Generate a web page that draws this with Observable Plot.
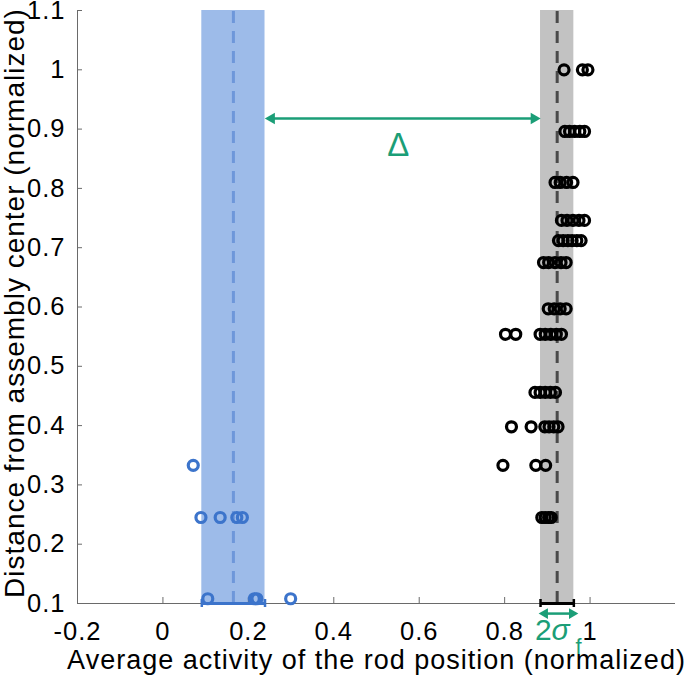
<!DOCTYPE html>
<html>
<head>
<meta charset="utf-8">
<script src="https://cdn.jsdelivr.net/npm/d3@7"></script>
<script src="https://cdn.jsdelivr.net/npm/@observablehq/plot@0.6"></script>
<style>
  html, body { margin: 0; padding: 0; background: #fff; }
</style>
</head>
<body>
<div id="chart"></div>
<script>
// ---- data ----
const xTicks = [-0.2, 0, 0.2, 0.4, 0.6, 0.8, 1];
const yTicks = [0.1, 0.2, 0.3, 0.4, 0.5, 0.6, 0.7, 0.8, 0.9, 1, 1.1];

// distances (normalized) of each row of rods
const fgDistances = [1.0, 0.896, 0.810, 0.746, 0.712, 0.675, 0.597, 0.554, 0.456, 0.398, 0.333, 0.245];
// activities of the rods at each distance (black, in-assembly)
const fgActivities = [
  [0.939, 0.982, 0.995],
  [0.941, 0.952, 0.964, 0.976, 0.987],
  [0.918, 0.930, 0.945, 0.960],
  [0.933, 0.946, 0.960, 0.974, 0.987],
  [0.926, 0.937, 0.948, 0.958, 0.969, 0.979],
  [0.891, 0.903, 0.918, 0.932, 0.944],
  [0.902, 0.916, 0.930, 0.944],
  [0.802, 0.826, 0.883, 0.895, 0.908, 0.921, 0.933],
  [0.871, 0.883, 0.895, 0.907, 0.919],
  [0.816, 0.862, 0.894, 0.904, 0.915, 0.925],
  [0.796, 0.873, 0.896],
  [0.887, 0.895, 0.903, 0.909]
];

// blue (background) rods
const bgDistances = [0.333, 0.245, 0.108];
const bgActivities = [
  [0.071],
  [0.089, 0.134, 0.173, 0.186],
  [0.105, 0.214, 0.220, 0.299]
];

// band summaries: mean and ± spread
const bgBand = {lo: 0.091, mean: 0.165, hi: 0.239};
const fgBand = {lo: 0.884, mean: 0.923, hi: 0.962};

// annotations
const deltaArrowY = 0.918;
const deltaLabel = {x: 0.552, y: 0.872, text: "Δ"};
const sigmaArrow = {x1: 0.880, x2: 0.972, y: 0.083};
const sigmaTwo = {x: 0.892, y: 0.0545, text: "2"};
const sigmaSym = {x: 0.932, y: 0.0545, text: "σ"};
const sigmaSub = {x: 0.974, y: 0.026, text: "f"};

const xTitle = "Average activity of the rod position (normalized)";
const yTitle = "Distance from assembly center (normalized)";

// ---- build tables ----
const fgPoints = fgDistances.flatMap((d, i) => fgActivities[i].map(a => ({x: a, y: d})));
const bgPoints = bgDistances.flatMap((d, i) => bgActivities[i].map(a => ({x: a, y: d})));

const xDomain = [-0.2, 1.2];
const yDomain = [0.1, 1.1];

const GREEN = "#1b9e77";
const BLUE = "#3c74cb";
const BLUE_BAND = "#9dbbe9";
const BLUE_DASH = "#6e97da";
const GRAY_BAND = "#c2c2c2";
const GRAY_DASH = "#4a4a4a";
const AXIS = "#6a6a6a";
const FONT = "'Liberation Sans', Arial, Helvetica, sans-serif";

const chart = Plot.plot({
  width: 685,
  height: 682,
  marginLeft: 77,
  marginRight: 10,
  marginTop: 10,
  marginBottom: 79,
  x: {domain: xDomain},
  y: {domain: yDomain},
  style: {fontFamily: FONT, fontSize: "25px", color: "#000", background: "#fff", overflow: "visible", letterSpacing: "1px"},
  marks: [
    // bands
    Plot.rect([bgBand], {x1: "lo", x2: "hi", y1: yDomain[0], y2: yDomain[1], fill: BLUE_BAND}),
    Plot.rect([fgBand], {x1: "lo", x2: "hi", y1: yDomain[0], y2: yDomain[1], fill: GRAY_BAND}),
    // mean dashed lines
    Plot.ruleX([bgBand.mean], {y1: yDomain[0], y2: yDomain[1], stroke: BLUE_DASH, strokeWidth: 3, strokeDasharray: "12,8"}),
    Plot.ruleX([fgBand.mean], {y1: yDomain[0], y2: yDomain[1], stroke: GRAY_DASH, strokeWidth: 3, strokeDasharray: "12,8"}),
    // axis lines
    Plot.ruleX([xDomain[0]], {y1: yDomain[0], y2: yDomain[1], stroke: AXIS, strokeWidth: 1}),
    Plot.ruleY([yDomain[0]], {x1: xDomain[0], x2: xDomain[1], stroke: AXIS, strokeWidth: 1}),
    // inward ticks
    Plot.ruleX(xTicks, {y1: yDomain[0], y2: yDomain[0], insetBottom: 6, stroke: AXIS, strokeWidth: 1}),
    Plot.ruleY(yTicks, {x1: xDomain[0], x2: xDomain[0], insetRight: -5, stroke: AXIS, strokeWidth: 1}),
    // points
    Plot.dot(bgPoints, {x: "x", y: "y", r: 5, stroke: BLUE, strokeWidth: 3.2, fill: "none"}),
    Plot.dot(fgPoints, {x: "x", y: "y", r: 5, stroke: "#000", strokeWidth: 3.2, fill: "none"}),
    // error bars at the bottom
    Plot.ruleY([bgBand], {x1: "lo", x2: "hi", y: yDomain[0], stroke: BLUE, strokeWidth: 3}),
    Plot.ruleX([bgBand.lo, bgBand.hi], {y1: yDomain[0], y2: yDomain[0], insetTop: -4, insetBottom: -4, stroke: BLUE, strokeWidth: 2.5}),
    Plot.ruleY([fgBand], {x1: "lo", x2: "hi", y: yDomain[0], stroke: "#000", strokeWidth: 3}),
    Plot.ruleX([fgBand.lo, fgBand.hi], {y1: yDomain[0], y2: yDomain[0], insetTop: -4, insetBottom: -4, stroke: "#000", strokeWidth: 2.5}),
    // Delta arrow
    Plot.ruleY([deltaArrowY], {x1: bgBand.hi + 0.01, x2: fgBand.lo - 0.01, stroke: GREEN, strokeWidth: 2.5}),
    Plot.dot([bgBand.hi], {x: d => d, y: deltaArrowY, rotate: -90, dx: 6.5, symbol: "triangle", r: 4.3, fill: GREEN, stroke: "none"}),
    Plot.dot([fgBand.lo], {x: d => d, y: deltaArrowY, rotate: 90, dx: -6.5, symbol: "triangle", r: 4.3, fill: GREEN, stroke: "none"}),
    Plot.text([deltaLabel], {x: "x", y: "y", text: "text", fill: GREEN, fontSize: 33}),
    // sigma arrow
    Plot.ruleY([sigmaArrow], {x1: d => d.x1 + 0.01, x2: d => d.x2 - 0.01, y: "y", stroke: GREEN, strokeWidth: 2.5}),
    Plot.dot([sigmaArrow], {x: "x1", y: "y", rotate: -90, dx: 6, symbol: "triangle", r: 4, fill: GREEN, stroke: "none"}),
    Plot.dot([sigmaArrow], {x: "x2", y: "y", rotate: 90, dx: -6, symbol: "triangle", r: 4, fill: GREEN, stroke: "none"}),
    Plot.text([sigmaTwo], {x: "x", y: "y", text: "text", fill: GREEN, fontSize: 30}),
    Plot.text([sigmaSym], {x: "x", y: "y", text: "text", fill: GREEN, fontSize: 30, fontStyle: "italic"}),
    Plot.text([sigmaSub], {x: "x", y: "y", text: "text", fill: GREEN, fontSize: 22}),
    // tick labels
    Plot.axisX(xTicks, {tickSize: 0, tickPadding: 18, fontSize: 25.5, tickFormat: d => String(d), label: null}),
    Plot.axisY(yTicks, {tickSize: 0, tickPadding: 12, fontSize: 25.5, tickFormat: d => String(d), label: null}),
    // titles
    Plot.text([xTitle], {frameAnchor: "bottom", dy: 65, fontSize: 27, fill: "#000", textAnchor: "middle"}),
    Plot.text([yTitle], {frameAnchor: "left", dx: -62, dy: -4, rotate: -90, fontSize: 28, fill: "#000", textAnchor: "middle"})
  ]
});

document.getElementById("chart").appendChild(chart);
</script>
</body>
</html>
